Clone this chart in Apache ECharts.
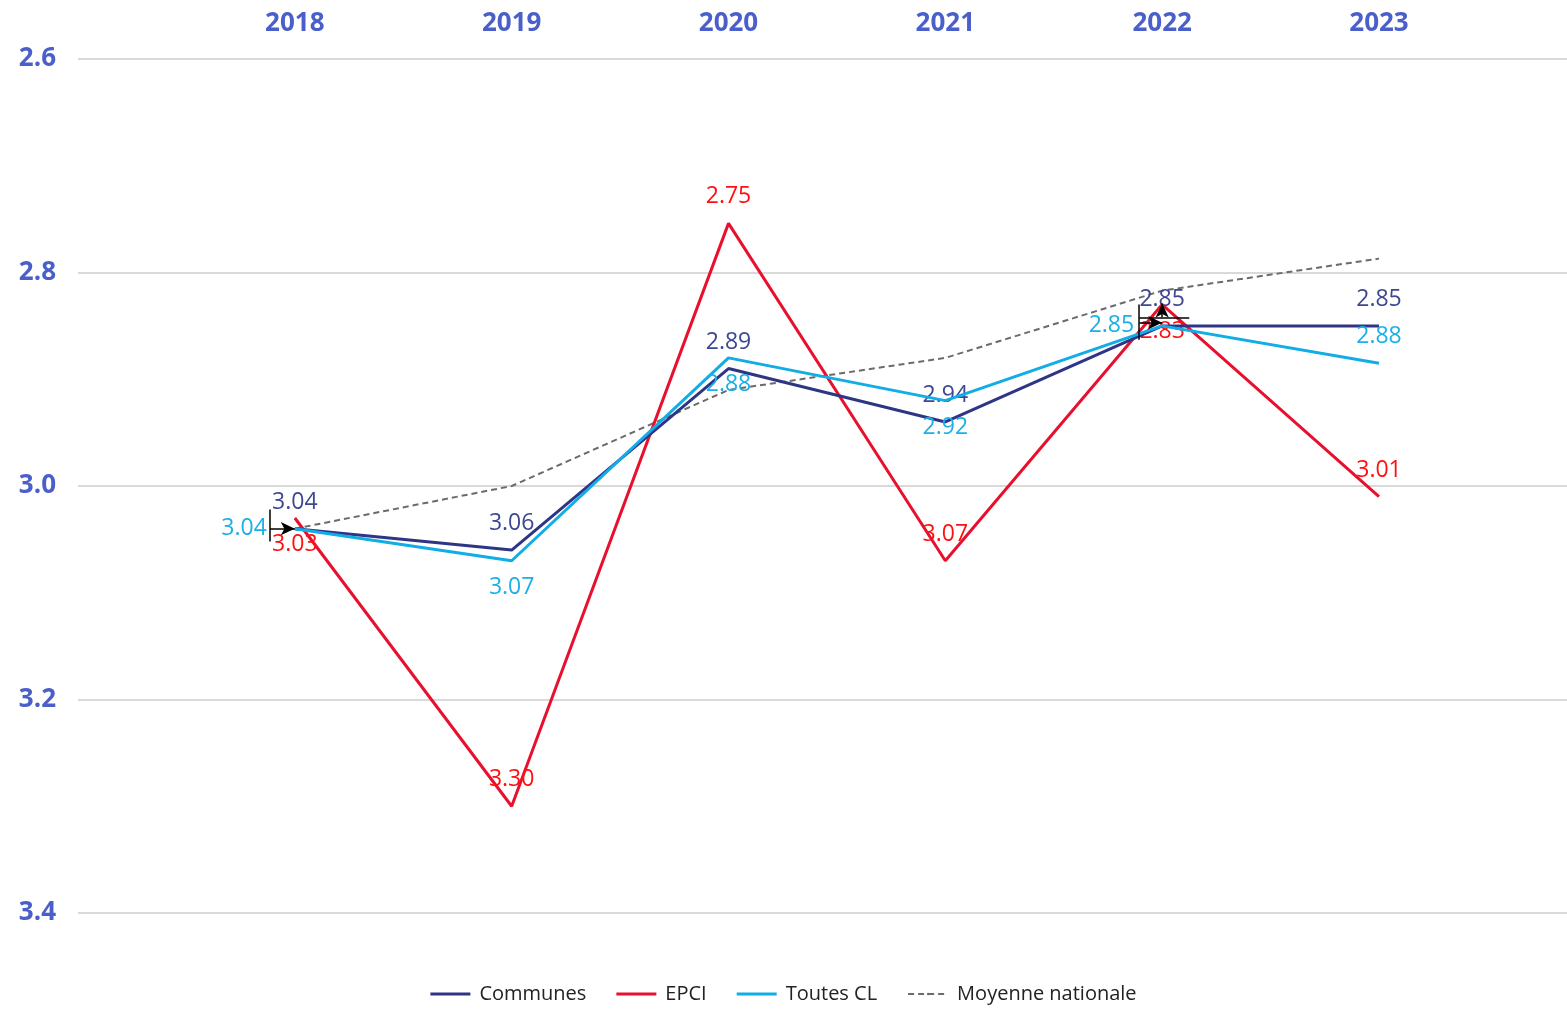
<!DOCTYPE html>
<html>
<head>
<meta charset="utf-8">
<script src="https://cdn.jsdelivr.net/npm/echarts@6/dist/echarts.min.js"></script>
<style>
  html, body { margin: 0; padding: 0; background: #fff; }
  #chart { width: 1567px; height: 1009px; }
</style>
</head>
<body>
<div id="chart"></div>
<script>
// données
var years = ['2018', '2019', '2020', '2021', '2022', '2023'];
var communes = [3.04, 3.06, 2.89, 2.94, 2.85, 2.85];
var epci = [3.03, 3.30, 2.754, 3.07, 2.83, 3.01];
var toutesCL = [3.04, 3.07, 2.88, 2.92, 2.85, 2.885];
var moyenne = [3.04, 3.00, 2.91, 2.88, 2.817, 2.787];
var yTicks = [2.6, 2.8, 3.0, 3.2, 3.4];

// position des étiquettes (comme dans le classeur)
var posCommunes = ['top', 'top', 'top', 'top', 'top', 'top'];
var posEpci = ['bottom', 'top', 'top', 'top', 'bottom', 'top'];
var posToutes = ['left', 'bottom', 'bottom', 'bottom', 'left', 'top'];

var chart = echarts.init(document.getElementById('chart'));

function pts(arr, pos) {
    return arr.map(function (v, i) {
        var d = { value: [i, v] };
        if (pos) {
            d.label = { position: pos[i], distance: pos[i] === 'left' ? 28 : 15 };
        }
        return d;
    });
}

function labelStyle(color) {
    return {
        show: true,
        color: color,
        fontSize: 23,
        fontFamily: 'Open Sans',
        formatter: function (p) { return Number(p.value[1]).toFixed(2); }
    };
}

var option = {
    animation: false,
    backgroundColor: '#fff',
    grid: {
        top: 59,
        bottom: 96,
        left: 78,
        right: 0
    },
    legend: {
        bottom: 0,
        left: 'center',
        itemWidth: 40,
        itemHeight: 3,
        itemGap: 30,
        textStyle: { fontSize: 20, color: '#222', fontFamily: 'Open Sans', padding: [0, 0, 0, 4] },
        data: [
            { name: 'Communes', icon: 'rect' },
            { name: 'EPCI', icon: 'rect' },
            { name: 'Toutes CL', icon: 'rect' },
            { name: 'Moyenne nationale' }
        ]
    },
    xAxis: {
        type: 'value',
        position: 'top',
        min: -1,
        max: 5.867,
        interval: 1,
        axisLine: { show: false },
        axisTick: { show: false },
        splitLine: { show: false },
        axisLabel: {
            color: '#4a5fc9',
            fontSize: 26,
            fontWeight: 'bold',
            fontFamily: 'Open Sans',
            margin: 22,
            showMaxLabel: false,
            formatter: function (v) { return years[v] || ''; }
        }
    },
    yAxis: {
        type: 'value',
        inverse: true,
        min: yTicks[0],
        max: yTicks[yTicks.length - 1],
        interval: 0.2,
        axisLine: { show: false },
        axisTick: { show: false },
        splitLine: { lineStyle: { color: '#d9d9d9', width: 2 } },
        axisLabel: {
            color: '#4a5fc9',
            fontSize: 26,
            fontWeight: 'bold',
            fontFamily: 'Open Sans',
            margin: 22,
            formatter: function (v) { return v.toFixed(1); }
        }
    },
    series: [
        {
            name: 'Moyenne nationale',
            type: 'line',
            symbol: 'none',
            data: pts(moyenne),
            lineStyle: { color: '#6b6b6b', width: 2, type: [6, 4] },
            itemStyle: { color: '#6b6b6b' },
            z: 1
        },
        {
            name: 'EPCI',
            type: 'line',
            symbol: 'circle',
            symbolSize: 0,
            showSymbol: true,
            data: pts(epci, posEpci),
            lineStyle: { color: '#e8102e', width: 3 },
            itemStyle: { color: '#e8102e' },
            label: labelStyle('#ff1010'),
            z: 2
        },
        {
            name: 'Communes',
            type: 'line',
            symbol: 'circle',
            symbolSize: 0,
            showSymbol: true,
            data: pts(communes, posCommunes),
            lineStyle: { color: '#2e3585', width: 3 },
            itemStyle: { color: '#2e3585' },
            label: labelStyle('#3d4793'),
            z: 3
        },
        {
            name: 'Toutes CL',
            type: 'line',
            symbol: 'circle',
            symbolSize: 0,
            showSymbol: true,
            data: pts(toutesCL, posToutes),
            lineStyle: { color: '#10ade6', width: 3 },
            itemStyle: { color: '#10ade6' },
            label: labelStyle('#1ab0e8'),
            z: 4,
            markLine: {
                silent: true,
                symbol: ['none', 'arrow'],
                symbolSize: [10, 14],
                label: { show: false },
                lineStyle: { color: '#000', width: 1.5, type: 'solid' },
                data: [
                    [{ coord: [-0.115, 3.04] }, { coord: [0, 3.04] }],
                    [{ coord: [-0.115, 3.022], symbol: 'none' }, { coord: [-0.115, 3.052], symbol: 'none' }],
                    [{ coord: [3.894, 2.830], symbol: 'none' }, { coord: [3.894, 2.863], symbol: 'none' }],
                    [{ coord: [3.894, 2.842], symbol: 'none' }, { coord: [4.125, 2.842], symbol: 'none' }],
                    [{ coord: [4, 2.842] }, { coord: [4, 2.829] }],
                    [{ coord: [3.894, 2.847] }, { coord: [4, 2.847] }]
                ]
            }
        }
    ]
};

chart.setOption(option);
</script>
</body>
</html>
